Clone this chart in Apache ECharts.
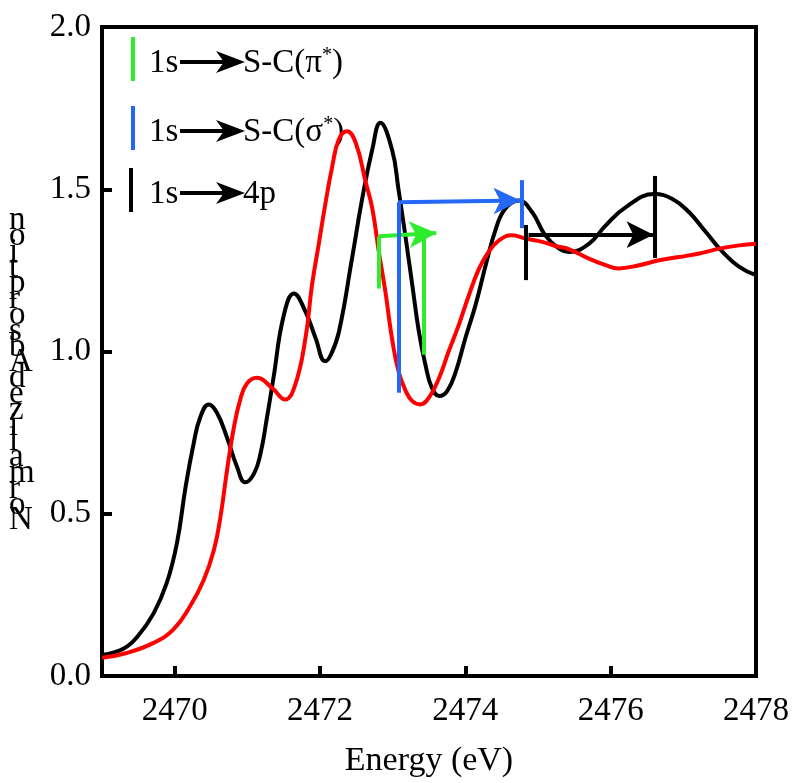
<!DOCTYPE html>
<html>
<head>
<meta charset="utf-8">
<script src="https://cdn.jsdelivr.net/npm/echarts@6/dist/echarts.min.js"></script>
<style>
  html, body { margin: 0; padding: 0; background: #fff; }
  #chart { width: 796px; height: 783px; }
</style>
</head>
<body>
<div id="chart"></div>
<script>
// black spectrum
const blackE = [2469.0, 2469.3, 2469.5, 2469.71, 2469.89, 2470.03, 2470.15, 2470.26, 2470.35, 2470.47,
  2470.58, 2470.72, 2470.86, 2470.97, 2471.09, 2471.18, 2471.27, 2471.36, 2471.5, 2471.64,
  2471.8, 2471.94, 2472.07, 2472.15, 2472.26, 2472.44, 2472.58, 2472.72, 2472.83, 2472.99,
  2473.08, 2473.18, 2473.27, 2473.36, 2473.45, 2473.54, 2473.64, 2473.75, 2473.87, 2474.0,
  2474.14, 2474.28, 2474.42, 2474.55, 2474.74, 2474.92, 2475.1, 2475.29, 2475.43, 2475.7,
  2475.93, 2476.21, 2476.6, 2476.85, 2477.08, 2477.31, 2477.54, 2477.77, 2478.0];
const blackV = [0.065, 0.085, 0.125, 0.193, 0.286, 0.408, 0.582, 0.715, 0.796, 0.837,
  0.812, 0.735, 0.643, 0.597, 0.623, 0.684, 0.796, 0.919, 1.11, 1.179,
  1.123, 1.041, 0.97, 0.99, 1.06, 1.286, 1.47, 1.623, 1.705, 1.623,
  1.5, 1.348, 1.205, 1.062, 0.96, 0.888, 0.863, 0.878, 0.939, 1.041,
  1.143, 1.266, 1.378, 1.44, 1.465, 1.429, 1.358, 1.317, 1.307, 1.332,
  1.388, 1.445, 1.485, 1.47, 1.429, 1.368, 1.307, 1.261, 1.235];

// red spectrum
const redE = [2469.0, 2469.34, 2469.71, 2469.98, 2470.21, 2470.4, 2470.54, 2470.63, 2470.72, 2470.81,
  2470.9, 2470.99, 2471.13, 2471.34, 2471.52, 2471.66, 2471.8, 2471.89, 2471.98, 2472.07,
  2472.17, 2472.26, 2472.37, 2472.49, 2472.63, 2472.72, 2472.81, 2472.9, 2472.99, 2473.08,
  2473.18, 2473.27, 2473.38, 2473.5, 2473.64, 2473.77, 2473.91, 2474.05, 2474.19, 2474.32,
  2474.46, 2474.64, 2474.83, 2475.06, 2475.24, 2475.43, 2475.7, 2475.93, 2476.11, 2476.39,
  2476.67, 2476.94, 2477.22, 2477.5, 2477.77, 2478.0];
const redV = [0.056, 0.071, 0.102, 0.143, 0.214, 0.296, 0.388, 0.49, 0.633, 0.76,
  0.85, 0.9, 0.919, 0.888, 0.852, 0.898, 1.041, 1.205, 1.327, 1.45,
  1.572, 1.654, 1.679, 1.644, 1.521, 1.44, 1.307, 1.184, 1.041, 0.939,
  0.878, 0.847, 0.837, 0.858, 0.919, 1.0, 1.082, 1.174, 1.256, 1.307,
  1.342, 1.358, 1.348, 1.338, 1.325, 1.315, 1.286, 1.266, 1.256, 1.266,
  1.281, 1.291, 1.302, 1.317, 1.327, 1.332];

// tick labels
const xTicks = [2470, 2472, 2474, 2476];
const xLabels = [2470, 2472, 2474, 2476, 2478];

// annotation segments: [x1, y1, x2, y2, arrow]
const greenMarks = [
  [2472.81, 1.354, 2472.81, 1.194, false],
  [2473.43, 1.36, 2473.43, 0.99, false],
  [2472.81, 1.355, 2473.6, 1.365, true]
];
const blueMarks = [
  [2473.08, 1.46, 2473.08, 0.873, false],
  [2474.77, 1.528, 2474.77, 1.38, false],
  [2473.08, 1.46, 2474.76, 1.465, true]
];
const blackMarks = [
  [2474.83, 1.39, 2474.83, 1.22, false],
  [2476.6, 1.541, 2476.6, 1.288, false],
  [2474.87, 1.36, 2476.59, 1.36, true]
];

const legendRows = [
  { color: '#2ded2d', y: 37, text: '{n|S-C(π}{s|*}{n|)}' },
  { color: '#2568f5', y: 106, text: '{n|S-C(σ}{s|*}{n|)}' },
  { color: '#000000', y: 168, text: '{n|4p}' }
];

const yTitle = 'Normalized Absorption'.replace(' ', '').split('').reverse().join('\n');

const FONT = '"Liberation Serif", "Times New Roman", serif';

function marks(list, color) {
  return list.map(m => [
    { coord: [m[0], m[1]], symbol: 'none', lineStyle: { color: color, width: 4, type: 'solid' } },
    { coord: [m[2], m[3]], symbol: m[4] ? 'arrow' : 'none', symbolSize: [20, 27] }
  ]);
}

const legendGraphics = [];
legendRows.forEach((r, i) => {
  const bx = i === 2 ? 131 : 133;
  const ay = r.y + 25;
  legendGraphics.push(
    { type: 'line', shape: { x1: bx, y1: r.y, x2: bx, y2: r.y + 44 }, style: { stroke: r.color, lineWidth: 4 } },
    { type: 'text', x: 149, y: ay + 1, style: { text: '1s', font: '33px ' + FONT, fill: '#000', verticalAlign: 'middle' } },
    { type: 'line', shape: { x1: 180, y1: ay, x2: 232, y2: ay }, style: { stroke: '#000', lineWidth: 4 } },
    { type: 'polygon', shape: { points: [[245, ay], [216, ay - 11], [224, ay], [216, ay + 11]] }, style: { fill: '#000' } },
    { type: 'text', x: 243, y: ay + 1, style: {
        text: r.text, verticalAlign: 'middle', fill: '#000',
        rich: {
          n: { fontFamily: FONT, fontSize: 33, lineHeight: 34, verticalAlign: 'bottom' },
          s: { fontFamily: FONT, fontSize: 20, lineHeight: 34, verticalAlign: 'top' }
        }
      } }
  );
});

const chart = echarts.init(document.getElementById('chart'), null, { renderer: 'canvas' });

chart.setOption({
  animation: false,
  textStyle: { fontFamily: FONT },
  grid: { left: 102, right: 40, top: 27, bottom: 103, show: true, borderColor: '#000', borderWidth: 4 },
  xAxis: {
    type: 'value',
    min: 2469,
    max: 2478,
    splitLine: { show: false },
    axisLine: { show: false },
    axisTick: { show: true, inside: true, length: 10, customValues: xTicks, lineStyle: { color: '#000', width: 4 } },
    axisLabel: { customValues: xLabels, margin: 19, color: '#000', fontSize: 33, fontFamily: FONT, formatter: v => String(v) },
    name: 'Energy (eV)',
    nameLocation: 'middle',
    nameGap: 68,
    nameTextStyle: { color: '#000', fontSize: 34, fontFamily: FONT }
  },
  yAxis: {
    type: 'value',
    min: 0,
    max: 2,
    interval: 0.5,
    splitLine: { show: false },
    axisLine: { show: false },
    axisTick: { show: true, inside: true, length: 10, lineStyle: { color: '#000', width: 4 } },
    axisLabel: { margin: 11, color: '#000', fontSize: 33, fontFamily: FONT, formatter: v => v.toFixed(1) }
  },
  graphic: [
    {
      type: 'text', left: 9, top: 204,
      style: { text: yTitle, font: '33px ' + FONT, lineHeight: 15.8, align: 'center', fill: '#000' }
    }
  ].concat(legendGraphics),
  series: [
    {
      type: 'line',
      data: blackE.map((e, i) => [e, blackV[i]]),
      showSymbol: false,
      smooth: 0.45,
      lineStyle: { color: '#000', width: 4 },
      z: 2,
      markLine: { silent: true, animation: false, label: { show: false }, symbol: ['none', 'none'], data: marks(blackMarks, '#000') }
    },
    {
      type: 'line',
      data: redE.map((e, i) => [e, redV[i]]),
      showSymbol: false,
      smooth: 0.45,
      lineStyle: { color: '#ff0000', width: 4 },
      z: 3
    },
    {
      type: 'line',
      data: [],
      z: 4,
      markLine: { silent: true, animation: false, label: { show: false }, symbol: ['none', 'none'],
        data: marks(greenMarks, '#2ded2d').concat(marks(blueMarks, '#2568f5')) }
    }
  ]
});
</script>
</body>
</html>
